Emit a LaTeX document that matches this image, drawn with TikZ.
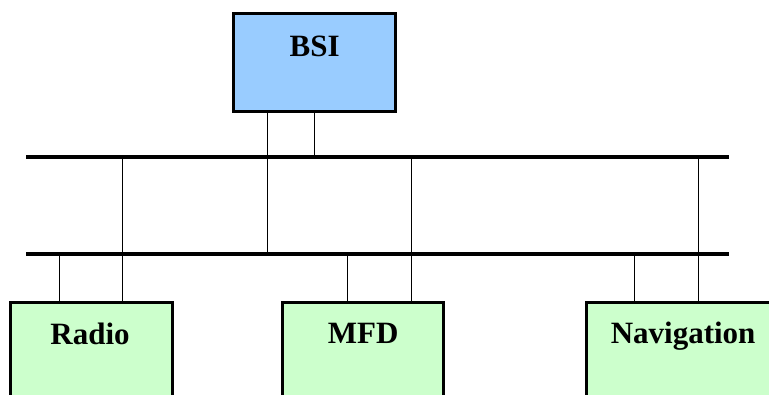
\documentclass[tikz,border=0pt]{standalone}
\usepackage{fontspec}
\setmainfont{Liberation Serif}
\definecolor{bsiblue}{RGB}{153,204,255}
\definecolor{ecugreen}{RGB}{204,255,204}
\begin{document}
\begin{tikzpicture}[x=1pt,y=-1pt,
  ecu/.style={draw=black, line width=3.2pt, minimum height=98pt,
    inner sep=0pt, anchor=north west},
  bus/.style={line width=3.2pt},
  wire/.style={line width=1.3pt},
  lbl/.style={font=\fontsize{31}{31}\selectfont\bfseries, anchor=base, inner sep=0pt}]
\useasboundingbox (0,0) rectangle (769,394);
\clip (0,0) rectangle (769,394);

% control units
\node[ecu, fill=bsiblue, minimum width=162pt] (bsi) at (232,12) {};
\node[ecu, fill=ecugreen, minimum width=162pt] (radio) at (9,301) {};
\node[ecu, fill=ecugreen, minimum width=161pt] (mfd) at (281,301) {};
\node[ecu, fill=ecugreen, minimum width=193pt] (nav) at (585,301) {};

\node[lbl] (bsitxt) at ([yshift=-44pt]bsi.north) {BSI};
\node[lbl] (radiotxt) at ([yshift=-43pt,xshift=-1.5pt]radio.north) {Radio};
\node[lbl] (mfdtxt) at ([yshift=-42pt]mfd.north) {MFD};
\node[lbl] (navtxt) at ([yshift=-42pt]nav.north) {Navigation};

% the two bus lines
\coordinate (b1w) at (26,157);
\coordinate (b1e) at (729,157);
\coordinate (b2w) at (26,254);
\coordinate (b2e) at (729,254);

% tap points on the units
\coordinate (bsiA) at ([xshift=-47pt]bsi.south);
\coordinate (bsiB) at (bsi.south);
\coordinate (radA) at ([xshift=-32pt]radio.north);
\coordinate (radB) at ([xshift=31pt]radio.north);
\coordinate (mfdA) at ([xshift=-15.5pt]mfd.north);
\coordinate (mfdB) at ([xshift=48.5pt]mfd.north);
\coordinate (navA) at ([xshift=-48.5pt]nav.north);
\coordinate (navB) at ([xshift=15.5pt]nav.north);

\draw[wire] (bsiA) -- (bsiA |- b2w);
\draw[wire] (bsiB) -- (bsiB |- b1w);
\draw[wire] (radA) -- (radA |- b2w);
\draw[wire] (radB) -- (radB |- b1w);
\draw[wire] (mfdA) -- (mfdA |- b2w);
\draw[wire] (mfdB) -- (mfdB |- b1w);
\draw[wire] (navA) -- (navA |- b2w);
\draw[wire] (navB) -- (navB |- b1w);

\draw[bus] (b1w) -- (b1e);
\draw[bus] (b2w) -- (b2e);
\end{tikzpicture}
\end{document}
